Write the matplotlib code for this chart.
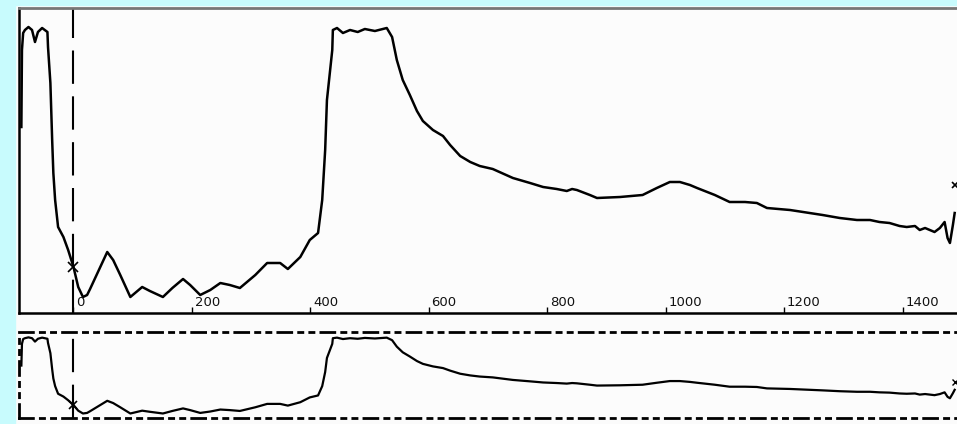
import matplotlib.pyplot as plt
from matplotlib.patches import Rectangle

# trace: x in axis units, level = height above the baseline
trace_x = [-88, -87, -85, -82, -76, -70, -65, -60, -53, -44, -43, -39, -36, -34,
           -31, -26, -17, -9, 0, 8, 16, 23, 28, 57, 67, 79, 96, 116, 129, 151,
           167, 185, 197, 214, 231, 248, 264, 281, 307, 327, 349, 362, 383, 399,
           413, 420, 425, 428, 437, 438, 445, 455, 467, 480, 492, 509, 529, 538,
           546, 556, 568, 580, 590, 607, 624, 636, 653, 670, 686, 708, 742, 771, 793,
           816, 833, 842, 850, 872, 884, 923, 961, 985, 1007, 1024, 1041, 1053,
           1083, 1108, 1134, 1154, 1171, 1210, 1265, 1294, 1323, 1345, 1361,
           1378, 1395, 1407, 1421, 1429, 1438, 1446, 1454, 1463, 1471, 1476,
           1480, 1485, 1488]
trace_y = [186, 263, 280, 283, 286, 283, 271, 281, 285, 281, 266, 230, 173, 140,
           113, 86, 76, 63, 46, 26, 16, 18, 24, 61, 53, 38, 16, 26, 22, 16,
           25, 34, 28, 18, 23, 30, 28, 25, 38, 50, 50, 44, 56, 73,
           80, 113, 163, 213, 263, 283, 285, 280, 283, 281, 284, 282, 285, 276,
           253, 233, 218, 202, 192, 183, 177, 168, 157, 151, 147, 144, 135, 130, 126,
           124, 122, 124, 123, 118, 115, 116, 118, 125, 131, 131, 128, 125,
           118, 111, 111, 110, 105, 103, 98, 95, 93, 93, 91,
           90, 87, 86, 87, 83, 85, 83, 81, 85, 91, 75,
           70, 88, 100]

tick_values = [0, 200, 400, 600, 800, 1000, 1200, 1400]
cursor_x = 0
cursor_y = 46
end_marker_x = 1488
end_marker_y = 128

W, H = 957, 424
fig = plt.figure(figsize=(W / 100, H / 100), dpi=100)
fig.patch.set_facecolor('#fbfbfb')
# light cyan frame on the left and top
fig.patches.append(Rectangle((0, 0), 15 / W, 1, transform=fig.transFigure,
                             color='#c8fbfd', zorder=0))
fig.patches.append(Rectangle((0, 1 - 5 / H), 1, 5 / H, transform=fig.transFigure,
                             color='#c8fbfd', zorder=0))

xlim = (-92, 1497)
ylim = (0, 305)

# main panel
ax = fig.add_axes([19 / W, (H - 313) / H, (960 - 19) / W, 305 / H])
ax.set_facecolor('#fcfcfc')
ax.plot(trace_x, trace_y, color='black', lw=1.8, solid_joinstyle='round')
ax.axvline(cursor_x, color='black', lw=1.5, dashes=(16, 6))
ax.plot(cursor_x, cursor_y, 'x', color='black', ms=7, mew=1.2)
ax.plot(end_marker_x, end_marker_y, 'x', color='black', ms=5, mew=1.2, clip_on=False)
ax.set_xlim(*xlim)
ax.set_ylim(*ylim)
ax.set_yticks([])
ax.set_xticks(tick_values)
ax.tick_params(axis='x', direction='in', length=4, width=1, labelbottom=False)
for v in tick_values:
    ax.annotate(str(v), xy=(v, 0), xycoords=('data', 'axes fraction'),
                xytext=(2, 3), textcoords='offset points',
                fontsize=9.5, color='#111111', ha='left', va='bottom')
ax.spines['right'].set_visible(False)
ax.spines['left'].set_linewidth(1.8)
ax.spines['bottom'].set_linewidth(1.8)
ax.spines['top'].set_color('#777777')
ax.spines['top'].set_linewidth(2)

# overview panel below, same data, dash-dot frame
ax2 = fig.add_axes([19 / W, (H - 418) / H, (960 - 19) / W, 86 / H])
ax2.set_facecolor('#fcfcfc')
ax2.plot(trace_x, trace_y, color='black', lw=1.6, solid_joinstyle='round')
ax2.axvline(cursor_x, color='black', lw=1.5, dashes=(16, 6))
ax2.plot(cursor_x, cursor_y, 'x', color='black', ms=6, mew=1.2)
ax2.plot(end_marker_x, end_marker_y, 'x', color='black', ms=4, mew=1.0, clip_on=False)
ax2.set_xlim(*xlim)
ax2.set_ylim(*ylim)
ax2.set_xticks([])
ax2.set_yticks([])
for side in ['top', 'bottom', 'left']:
    ax2.spines[side].set_linestyle((0, (5, 2.5, 1.5, 2.5, 1.5, 2.5)))
    ax2.spines[side].set_linewidth(2)
ax2.spines['right'].set_visible(False)

fig.savefig('out.png', dpi=100, facecolor=fig.get_facecolor())
